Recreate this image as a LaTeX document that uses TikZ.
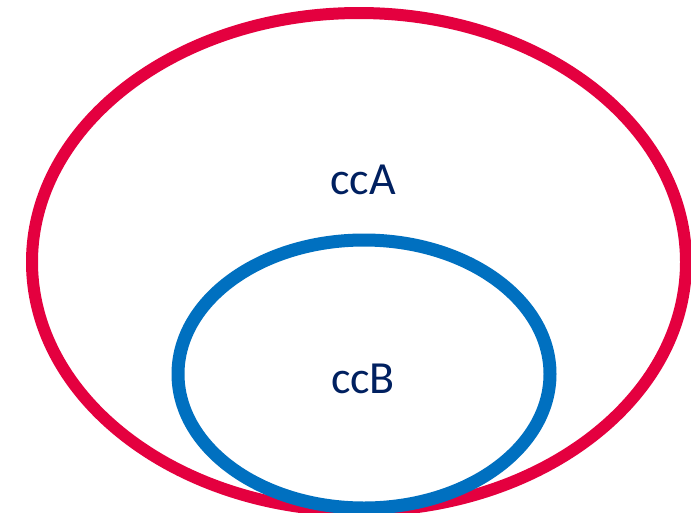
\documentclass[tikz,border=0pt]{standalone}
\usepackage{fontspec}
\setmainfont{Carlito}
\definecolor{ringred}{HTML}{E4003F}
\definecolor{ringblue}{HTML}{0070C0}
\definecolor{labelnavy}{HTML}{002060}
\begin{document}
\begin{tikzpicture}[x=1pt,y=-1pt,
  ring/.style={line width=12pt},
  lbl/.style={text=labelnavy,font=\fontsize{46}{52}\selectfont,inner sep=0pt}]
\useasboundingbox (0,0) rectangle (691,512);
\clip (0,0) rectangle (691,512);
\fill[white] (0,0) rectangle (691,512);
\draw[ring,draw=ringred] (359,262) ellipse[x radius=327,y radius=249];
\draw[ring,draw=ringblue,line width=13pt] (364,374) ellipse[x radius=186,y radius=134];
\node[lbl] (ccA) at (363,180) {ccA};
\node[lbl] (ccB) at (363,379) {ccB};
\end{tikzpicture}
\end{document}
